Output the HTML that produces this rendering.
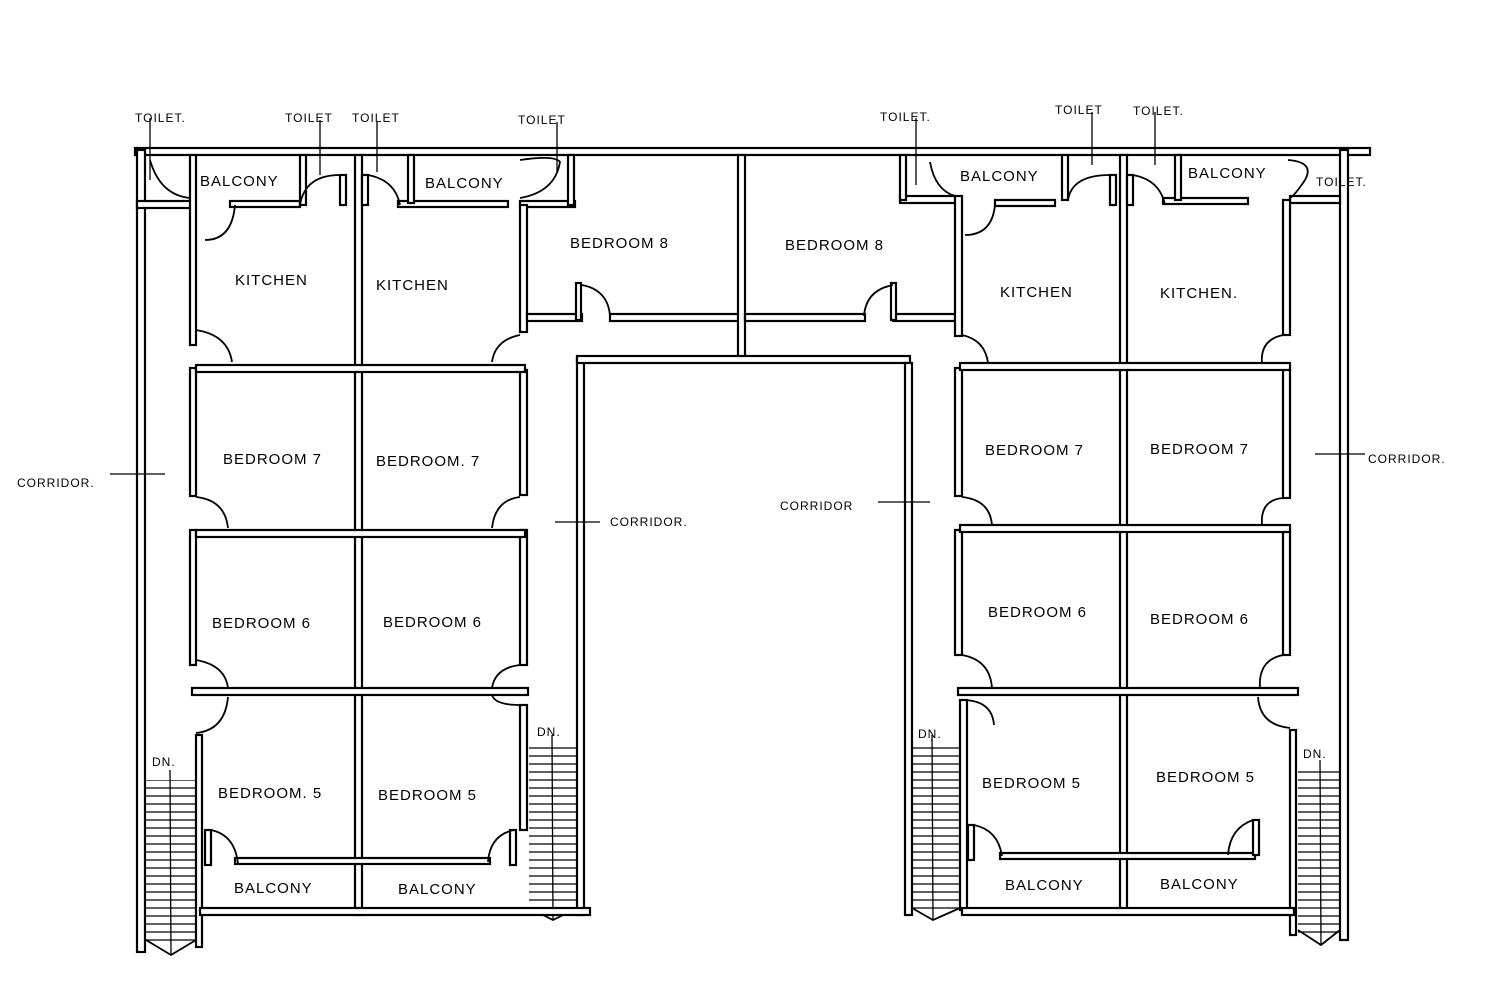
<!DOCTYPE html>
<html><head><meta charset="utf-8"><style>
html,body{margin:0;padding:0;background:#fff}
svg{display:block}
text{font-family:"Liberation Sans",sans-serif;font-size:15px;fill:#000;letter-spacing:1px}
.w{fill:#fff;stroke:#000;stroke-width:2.2}
.d{fill:none;stroke:#000;stroke-width:1.8}
.l{stroke:#000;stroke-width:1.3}
</style></head><body>
<svg width="1500" height="993" viewBox="0 0 1500 993" xmlns="http://www.w3.org/2000/svg">
<defs>
<pattern id="st" width="60" height="8" patternUnits="userSpaceOnUse"><line x1="0" y1="4" x2="60" y2="4" stroke="#000" stroke-width="1.3"/></pattern>
</defs>
<g>
<rect x="146" y="780" width="50" height="165" fill="url(#st)"/><line x1="170" y1="770" x2="171" y2="955" class="l"/><path d="M146 940 L171 955 L196 940" class="d"/>
<rect x="529" y="742" width="48" height="170" fill="url(#st)"/><line x1="552" y1="735" x2="553" y2="920" class="l"/><path d="M529 908 L553 920 L577 908" class="d"/>
<rect x="912" y="742" width="48" height="170" fill="url(#st)"/><line x1="932" y1="735" x2="933" y2="920" class="l"/><path d="M912 908 L933 920 L960 908" class="d"/>
<rect x="1298" y="765" width="42" height="172" fill="url(#st)"/><line x1="1320" y1="760" x2="1321" y2="945" class="l"/><path d="M1298 930 L1321 945 L1340 930" class="d"/>
</g>
<rect class="w" x="135" y="148" width="1235" height="7"/>
<rect class="w" x="137" y="150" width="8" height="802"/>
<rect class="w" x="1340" y="150" width="8" height="790"/>
<rect class="w" x="137" y="201" width="58" height="7"/>
<rect class="w" x="190" y="155" width="6" height="190"/>
<rect class="w" x="190" y="368" width="6" height="128"/>
<rect class="w" x="190" y="530" width="6" height="135"/>
<rect class="w" x="196" y="735" width="6" height="212"/>
<rect class="w" x="230" y="201" width="70" height="6"/>
<rect class="w" x="300" y="155" width="6" height="50"/>
<rect class="w" x="340" y="175" width="6" height="30"/>
<rect class="w" x="355" y="155" width="7" height="760"/>
<rect class="w" x="362" y="175" width="6" height="30"/>
<rect class="w" x="398" y="201" width="110" height="6"/>
<rect class="w" x="408" y="155" width="6" height="48"/>
<rect class="w" x="520" y="201" width="55" height="6"/>
<rect class="w" x="568" y="155" width="6" height="50"/>
<rect class="w" x="520" y="205" width="7" height="127"/>
<rect class="w" x="520" y="370" width="7" height="125"/>
<rect class="w" x="520" y="530" width="7" height="135"/>
<rect class="w" x="520" y="705" width="7" height="125"/>
<rect class="w" x="577" y="358" width="7" height="557"/>
<rect class="w" x="196" y="365" width="329" height="7"/>
<rect class="w" x="196" y="530" width="329" height="7"/>
<rect class="w" x="192" y="688" width="336" height="7"/>
<rect class="w" x="235" y="858" width="255" height="6"/>
<rect class="w" x="200" y="908" width="390" height="7"/>
<rect class="w" x="205" y="830" width="6" height="35"/>
<rect class="w" x="510" y="830" width="6" height="35"/>
<rect class="w" x="527" y="314" width="55" height="7"/>
<rect class="w" x="610" y="314" width="130" height="7"/>
<rect class="w" x="738" y="155" width="7" height="202"/>
<rect class="w" x="745" y="314" width="120" height="7"/>
<rect class="w" x="893" y="314" width="62" height="7"/>
<rect class="w" x="577" y="356" width="333" height="7"/>
<rect class="w" x="576" y="283" width="5" height="37"/>
<rect class="w" x="891" y="283" width="5" height="37"/>
<rect class="w" x="900" y="196" width="55" height="7"/>
<rect class="w" x="900" y="155" width="6" height="45"/>
<rect class="w" x="955" y="196" width="7" height="140"/>
<rect class="w" x="955" y="368" width="7" height="128"/>
<rect class="w" x="955" y="530" width="7" height="125"/>
<rect class="w" x="960" y="700" width="7" height="210"/>
<rect class="w" x="905" y="363" width="7" height="552"/>
<rect class="w" x="995" y="200" width="60" height="6"/>
<rect class="w" x="1062" y="155" width="6" height="45"/>
<rect class="w" x="1110" y="175" width="6" height="30"/>
<rect class="w" x="1120" y="155" width="7" height="755"/>
<rect class="w" x="1127" y="175" width="6" height="30"/>
<rect class="w" x="1163" y="198" width="85" height="6"/>
<rect class="w" x="1175" y="155" width="6" height="45"/>
<rect class="w" x="1290" y="196" width="50" height="7"/>
<rect class="w" x="1283" y="200" width="7" height="135"/>
<rect class="w" x="1283" y="368" width="7" height="130"/>
<rect class="w" x="1283" y="530" width="7" height="125"/>
<rect class="w" x="1290" y="730" width="6" height="205"/>
<rect class="w" x="960" y="363" width="330" height="7"/>
<rect class="w" x="960" y="525" width="330" height="7"/>
<rect class="w" x="958" y="688" width="340" height="7"/>
<rect class="w" x="1000" y="853" width="255" height="6"/>
<rect class="w" x="962" y="908" width="332" height="7"/>
<rect class="w" x="968" y="825" width="6" height="35"/>
<rect class="w" x="1253" y="820" width="6" height="35"/>
<g class="d">
<path d="M150 160 Q160 195 190 198"/><path d="M235 205 Q232 240 205 240"/><path d="M300 205 Q305 175 340 175"/>
<path d="M196 330 Q228 335 232 362"/><path d="M196 497 Q225 500 228 528"/><path d="M196 660 Q225 665 228 688"/><path d="M196 733 Q225 730 228 697"/>
<path d="M368 175 Q395 180 400 205"/><path d="M520 160 Q555 155 560 162 Q555 192 520 198"/>
<path d="M520 335 Q495 340 492 362"/><path d="M520 497 Q495 500 492 528"/><path d="M520 665 Q495 668 492 688"/><path d="M520 705 Q495 705 492 695"/>
<path d="M211 830 Q235 835 238 864"/><path d="M514 830 Q490 835 488 862"/>
<path d="M582 285 Q608 290 610 316"/><path d="M893 285 Q866 290 864 316"/>
<path d="M930 162 Q935 190 955 196"/><path d="M995 205 Q992 235 965 235"/><path d="M1068 200 Q1072 175 1110 175"/>
<path d="M962 335 Q985 340 988 363"/><path d="M962 497 Q990 500 992 525"/><path d="M962 655 Q990 660 992 688"/><path d="M962 700 Q992 700 994 725"/>
<path d="M1133 175 Q1160 180 1165 205"/><path d="M1288 160 Q1315 162 1305 180 Q1295 195 1290 198"/>
<path d="M1283 335 Q1260 340 1262 363"/><path d="M1283 498 Q1260 500 1262 525"/><path d="M1283 655 Q1258 660 1260 688"/><path d="M1290 728 Q1260 725 1258 697"/>
<path d="M974 825 Q998 830 1002 856"/><path d="M1253 820 Q1230 828 1228 855"/>
</g>
<g class="l">
<line x1="150" y1="118" x2="150" y2="180"/><line x1="320" y1="120" x2="320" y2="175"/><line x1="377" y1="122" x2="377" y2="172"/><line x1="557" y1="122" x2="557" y2="172"/>
<line x1="916" y1="118" x2="916" y2="185"/><line x1="1092" y1="112" x2="1092" y2="165"/><line x1="1155" y1="112" x2="1155" y2="165"/>
<line x1="110" y1="474" x2="165" y2="474"/><line x1="555" y1="522" x2="600" y2="522"/><line x1="878" y1="502" x2="930" y2="502"/><line x1="1315" y1="454" x2="1365" y2="454"/>
</g>
<text x="135" y="122" style="font-size:12px">TOILET.</text>
<text x="285" y="122" style="font-size:12px">TOILET</text>
<text x="352" y="122" style="font-size:12px">TOILET</text>
<text x="518" y="124" style="font-size:12px">TOILET</text>
<text x="880" y="121" style="font-size:12px">TOILET.</text>
<text x="1055" y="114" style="font-size:12px">TOILET</text>
<text x="1133" y="115" style="font-size:12px">TOILET.</text>
<text x="1316" y="186" style="font-size:12px">TOILET.</text>
<text x="200" y="186">BALCONY</text>
<text x="425" y="188">BALCONY</text>
<text x="960" y="181">BALCONY</text>
<text x="1188" y="178">BALCONY</text>
<text x="235" y="285">KITCHEN</text>
<text x="376" y="290">KITCHEN</text>
<text x="1000" y="297">KITCHEN</text>
<text x="1160" y="298">KITCHEN.</text>
<text x="570" y="248">BEDROOM 8</text>
<text x="785" y="250">BEDROOM 8</text>
<text x="223" y="464">BEDROOM 7</text>
<text x="376" y="466">BEDROOM. 7</text>
<text x="985" y="455">BEDROOM 7</text>
<text x="1150" y="454">BEDROOM 7</text>
<text x="212" y="628">BEDROOM 6</text>
<text x="383" y="627">BEDROOM 6</text>
<text x="988" y="617">BEDROOM 6</text>
<text x="1150" y="624">BEDROOM 6</text>
<text x="218" y="798">BEDROOM. 5</text>
<text x="378" y="800">BEDROOM 5</text>
<text x="982" y="788">BEDROOM 5</text>
<text x="1156" y="782">BEDROOM 5</text>
<text x="234" y="893">BALCONY</text>
<text x="398" y="894">BALCONY</text>
<text x="1005" y="890">BALCONY</text>
<text x="1160" y="889">BALCONY</text>
<text x="17" y="487" style="font-size:12px">CORRIDOR.</text>
<text x="610" y="526" style="font-size:12px">CORRIDOR.</text>
<text x="780" y="510" style="font-size:12px">CORRIDOR</text>
<text x="1368" y="463" style="font-size:12px">CORRIDOR.</text>
<text x="152" y="766" style="font-size:12px">DN.</text>
<text x="537" y="736" style="font-size:12px">DN.</text>
<text x="918" y="738" style="font-size:12px">DN.</text>
<text x="1303" y="758" style="font-size:12px">DN.</text>
</svg>
</body></html>
